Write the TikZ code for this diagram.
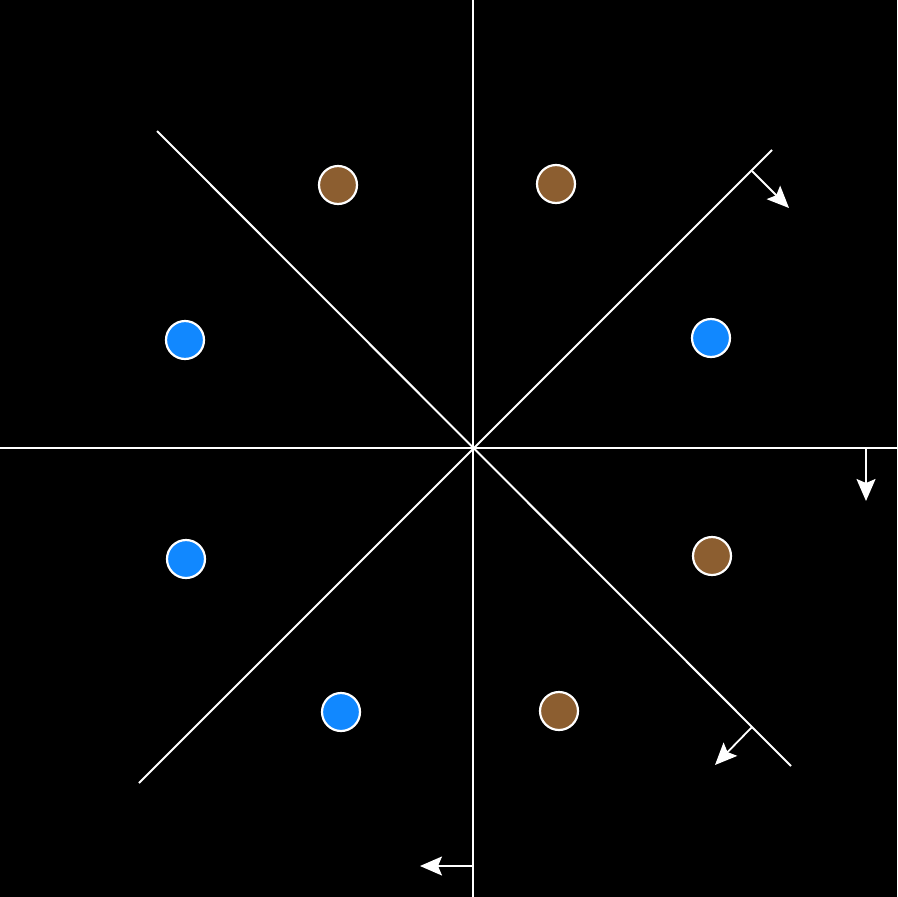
\documentclass[tikz,border=0pt]{standalone}
\usetikzlibrary{arrows.meta}
\definecolor{brownc}{RGB}{140,94,48}
\definecolor{bluec}{RGB}{17,136,255}
\tikzset{
  divider/.style={draw=white,line width=2pt},
  normalarrow/.style={draw=white,line width=1.8pt,-{Stealth[length=22pt,width=19pt,inset=4pt]}},
  pt/.style={circle,draw=white,line width=2.2pt,minimum size=38pt,inner sep=0pt},
  brownpt/.style={pt,fill=brownc},
  bluept/.style={pt,fill=bluec}
}
\begin{document}
\begin{tikzpicture}[x=1pt,y=-1pt]
\fill[black] (0,0) rectangle (897,897);
\useasboundingbox (0,0) rectangle (897,897);
\coordinate (O) at (473,448);
\coordinate (T) at (473,0);
\coordinate (B) at (473,897);
\coordinate (L) at (0,448);
\coordinate (R) at (897,448);
\coordinate (NE) at (772,150);
\coordinate (SW) at (139,783);
\coordinate (NW) at (157,131);
\coordinate (SE) at (791,766);
\draw[divider] (T) -- (B);
\draw[divider] (L) -- (R);
\draw[divider] (SW) -- (NE);
\draw[divider] (NW) -- (SE);
% normal arrows
\coordinate (a1s) at (752,171);
\coordinate (a1e) at (789,208);
\coordinate (a2s) at (866,448);
\coordinate (a2e) at (866,501);
\coordinate (a3s) at (752,727);
\coordinate (a3e) at (715,765);
\coordinate (a4s) at (473,866);
\coordinate (a4e) at (420,866);
\draw[normalarrow] (a1s) -- (a1e);
\draw[normalarrow] (a2s) -- (a2e);
\draw[normalarrow] (a3s) -- (a3e);
\draw[normalarrow] (a4s) -- (a4e);
% points
\node[brownpt] (b1) at (338,185) {};
\node[brownpt] (b2) at (556,184) {};
\node[brownpt] (b3) at (712,556) {};
\node[brownpt] (b4) at (559,711) {};
\node[bluept] (u1) at (185,340) {};
\node[bluept] (u2) at (711,338) {};
\node[bluept] (u3) at (186,559) {};
\node[bluept] (u4) at (341,712) {};
\end{tikzpicture}
\end{document}
